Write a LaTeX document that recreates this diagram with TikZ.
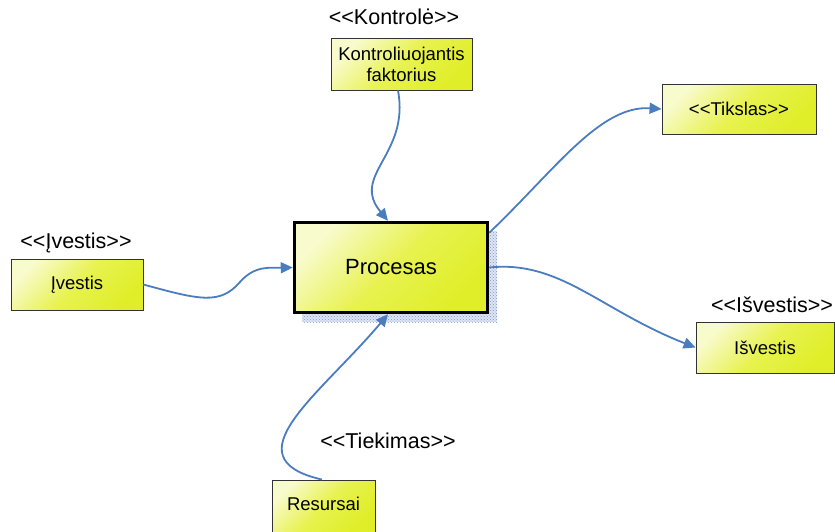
\documentclass[tikz,border=0pt]{standalone}
\usepackage{fontspec}
\setmainfont[Ligatures=NoCommon]{Liberation Sans}
\usetikzlibrary{arrows.meta,patterns}

\definecolor{ylight}{HTML}{F8FBCC}
\definecolor{ymid}{HTML}{E8F250}
\definecolor{ydark}{HTML}{DFEE28}
\definecolor{flowblue}{HTML}{4A7DC0}
\definecolor{shadowblue}{HTML}{8FA9DC}

\newcommand{\ltlt}{<{}<}
\newcommand{\gtgt}{>{}>}

\tikzset{
  box/.style={draw=black!80, line width=0.9pt, inner sep=0pt, align=center,
    top color=ylight, bottom color=ydark, middle color=ymid, shading angle=45,
    font=\fontsize{18.5}{21}\selectfont},
  mainbox/.style={box, draw=black, line width=3.5pt, font=\fontsize{22}{26}\selectfont},
  tag/.style={inner sep=0pt, font=\fontsize{21.5}{25}\selectfont},
  flow/.style={draw=flowblue, line width=1.8pt,
    -{Triangle[length=12pt,width=11pt]}},
}

\begin{document}
\begin{tikzpicture}[x=1pt,y=-1pt]
\useasboundingbox (0,0) rectangle (835,531);

% dotted shadow behind the process box
\fill[shadowblue!30] (302,231) rectangle (497,322);
\fill[pattern=crosshatch dots, pattern color=shadowblue!90!black] (302,231) rectangle (497,322);

% process box
\node[mainbox, minimum width=193, minimum height=90] (proc) at (391,267.5) {Procesas};

% surrounding boxes
\node[box, minimum width=141, minimum height=52] (ctrl) at (401.5,64) {Kontroliuojantis\\faktorius};
\node[box, minimum width=132, minimum height=51] (in) at (77,284.5) {Įvestis};
\node[box, minimum width=138, minimum height=51] (out) at (765,347.5) {Išvestis};
\node[box, minimum width=103, minimum height=52, text depth=5pt] (res) at (323.5,506) {Resursai};
\node[box, minimum width=154, minimum height=50] (goal) at (739,109) {\ltlt Tikslas\gtgt};

% stereotype tags
\node[tag] (tctrl) at (394,17) {\ltlt Kontrolė\gtgt};
\node[tag] (tin) at (76,243) {\ltlt Įvestis\gtgt};
\node[tag] (tout) at (772,305) {\ltlt Išvestis\gtgt};
\node[tag] (tres) at (388,441) {\ltlt Tiekimas\gtgt};

% connectors
\draw[flow] (ctrl.south -| 398,0) .. controls (410,155) and (350,175) .. (proc.north -| 388,0);
\draw[flow] (in.east) .. controls (200,300) and (220,305) .. (240,282)
  .. controls (255,265) and (270,268) .. (proc.west);
\draw[flow] (res.north -| 322,0) .. controls (228,458) and (320,395) .. (proc.south -| 388,0);
\draw[flow] (proc.north east) ++(0,12) .. controls (555,170) and (600,105) .. (goal.west);
\draw[flow] (proc.east) .. controls (560,260) and (600,310) .. (out.west);
\end{tikzpicture}
\end{document}
